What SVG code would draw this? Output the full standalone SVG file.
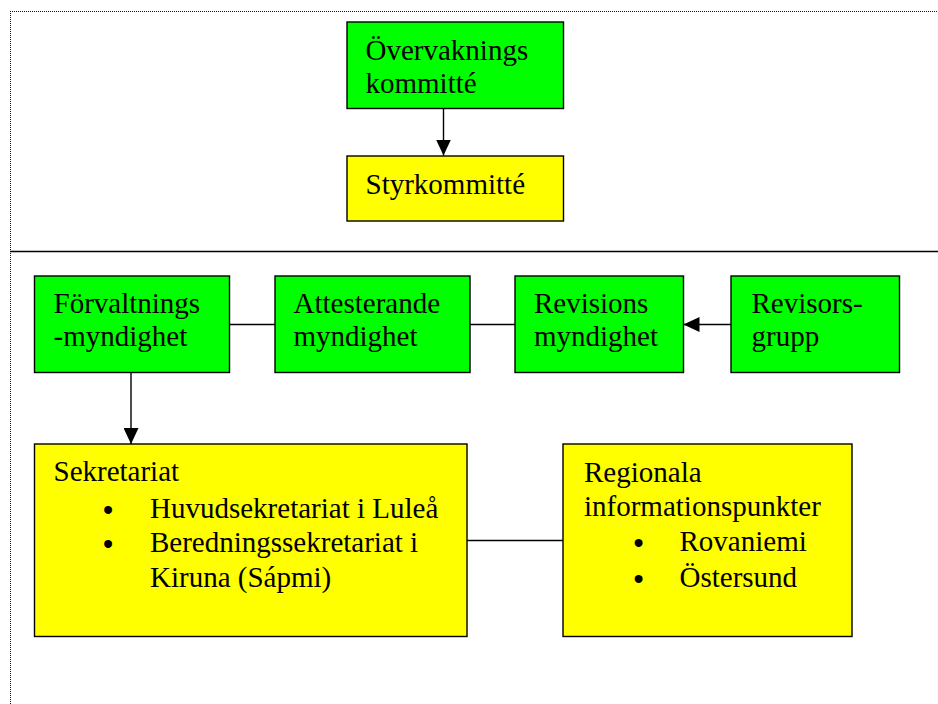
<svg xmlns="http://www.w3.org/2000/svg" width="938" height="704" viewBox="0 0 938 704">
<style>
  .t { font-family: "Liberation Serif", "Times New Roman", serif; font-size: 29px; fill: #000; }
  .b { font-family: "Liberation Sans", Arial, sans-serif; font-size: 29px; fill: #000; text-anchor: middle; }
  .g { fill: #00ff00; stroke: #000; stroke-width: 1.4; }
  .y { fill: #ffff00; stroke: #000; stroke-width: 1.4; }
  .c { stroke: #000; stroke-width: 1.4; fill: none; }
  .dot { stroke: #111; stroke-width: 1; stroke-dasharray: 1 1; fill: none; }
</style>
<defs>
  <marker id="ah" markerUnits="userSpaceOnUse" markerWidth="16" markerHeight="15" refX="16" refY="7.5" orient="auto">
    <path d="M0,0 L16,7.5 L0,15 z" fill="#000"/>
  </marker>
</defs>
<rect x="0" y="0" width="938" height="704" fill="#fff"/>
<g id="frame">
  <line class="dot" x1="10" y1="11.5" x2="938" y2="11.5"/>
  <line class="dot" x1="10.5" y1="11" x2="10.5" y2="704"/>
  <line x1="10" y1="251.5" x2="938" y2="251.5" stroke="#000" stroke-width="1.4"/>
</g>
<g id="connectors">
  <line class="c" x1="443.5" y1="108" x2="443.5" y2="155.5" marker-end="url(#ah)"/>
  <line class="c" x1="229" y1="324.5" x2="275" y2="324.5"/>
  <line class="c" x1="470" y1="324.5" x2="515" y2="324.5"/>
  <line class="c" x1="731" y1="324.5" x2="683.5" y2="324.5" marker-end="url(#ah)"/>
  <line class="c" x1="131" y1="372" x2="131" y2="444" marker-end="url(#ah)"/>
  <line class="c" x1="467" y1="540.5" x2="563" y2="540.5"/>
</g>
<g id="overvakning">
  <rect class="g" x="347" y="22" width="216.5" height="86.5"/>
  <text class="t" x="365.5" y="59.5">Övervaknings</text>
  <text class="t" x="365.5" y="92.5">kommitté</text>
</g>
<g id="styrkommitte">
  <rect class="y" x="347" y="156" width="216.5" height="65"/>
  <text class="t" x="365.5" y="193.5">Styrkommitté</text>
</g>
<g id="forvaltning">
  <rect class="g" x="34.5" y="276" width="195" height="96.5"/>
  <text class="t" x="53.5" y="312.5">Förvaltnings</text>
  <text class="t" x="53.5" y="346">-myndighet</text>
</g>
<g id="attesterande">
  <rect class="g" x="275" y="276" width="195" height="96.5"/>
  <text class="t" x="293.5" y="312.5">Attesterande</text>
  <text class="t" x="293.5" y="346">myndighet</text>
</g>
<g id="revisions">
  <rect class="g" x="515" y="276" width="168.5" height="96.5"/>
  <text class="t" x="534" y="312.5">Revisions</text>
  <text class="t" x="534" y="346">myndighet</text>
</g>
<g id="revisorsgrupp">
  <rect class="g" x="731" y="276" width="168.5" height="96.5"/>
  <text class="t" x="751.5" y="312.5">Revisors-</text>
  <text class="t" x="751.5" y="346">grupp</text>
</g>
<g id="sekretariat">
  <rect class="y" x="34.5" y="444" width="432.5" height="192.5"/>
  <text class="t" x="53.5" y="481">Sekretariat</text>
  <text class="b" x="108" y="519.5">•</text>
  <text class="t" x="150" y="517.5">Huvudsekretariat i Luleå</text>
  <text class="b" x="108" y="554">•</text>
  <text class="t" x="150" y="552">Beredningssekretariat i</text>
  <text class="t" x="150" y="587">Kiruna (Sápmi)</text>
</g>
<g id="regionala">
  <rect class="y" x="563" y="444" width="289" height="192.5"/>
  <text class="t" x="584" y="482">Regionala</text>
  <text class="t" x="584" y="516">informationspunkter</text>
  <text class="b" x="638.5" y="553">•</text>
  <text class="t" x="679.5" y="551">Rovaniemi</text>
  <text class="b" x="638.5" y="589">•</text>
  <text class="t" x="679.5" y="587">Östersund</text>
</g>
</svg>
